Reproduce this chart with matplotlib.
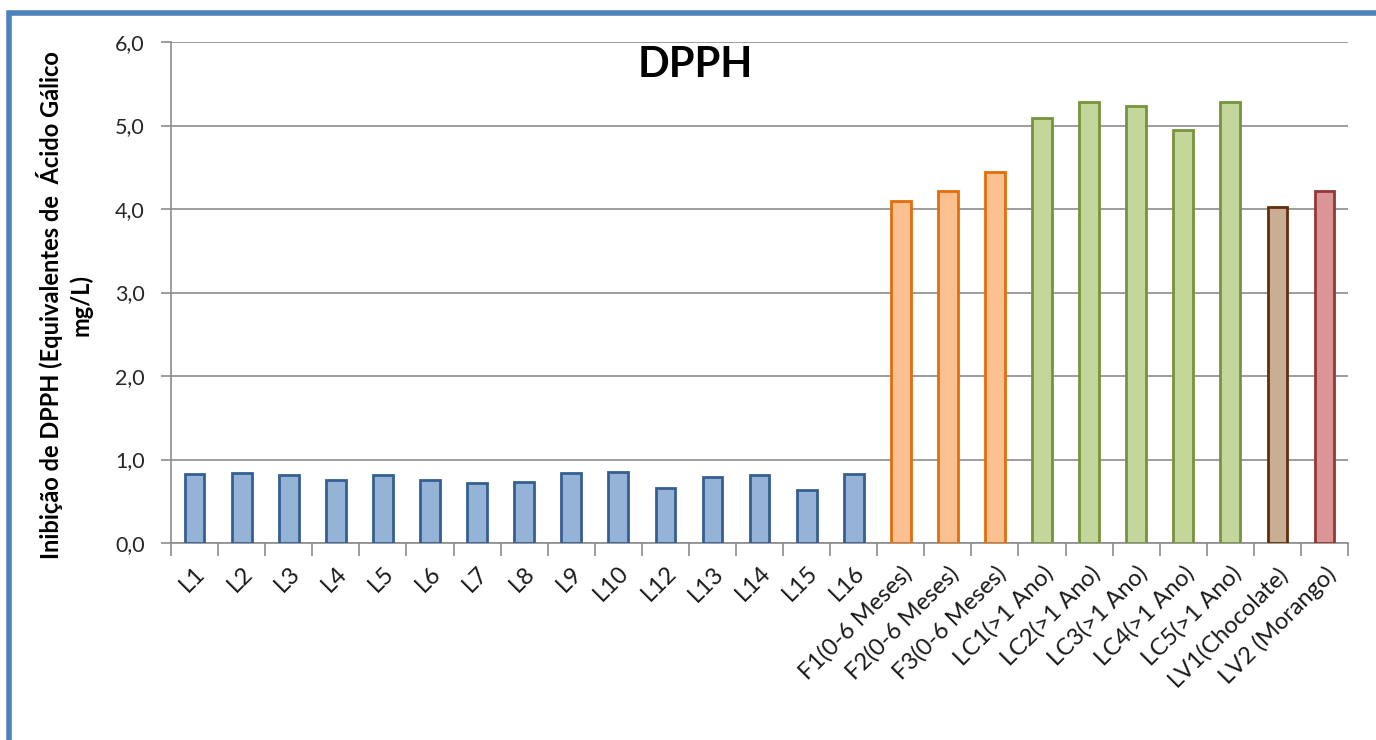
import matplotlib.pyplot as plt
import matplotlib.patches as mpatches
import numpy as np

plt.rcParams['font.family'] = ['Lato', 'DejaVu Sans']

labels = ['L1', 'L2', 'L3', 'L4', 'L5', 'L6', 'L7', 'L8', 'L9', 'L10',
          'L12', 'L13', 'L14', 'L15', 'L16',
          'F1(0-6 Meses)', 'F2(0-6 Meses)', 'F3(0-6 Meses)',
          'LC1(>1 Ano)', 'LC2(>1 Ano)', 'LC3(>1 Ano)', 'LC4(>1 Ano)', 'LC5(>1 Ano)',
          'LV1(Chocolate)', 'LV2 (Morango)']
values = [0.83, 0.84, 0.81, 0.75, 0.81, 0.76, 0.72, 0.73, 0.84, 0.85,
          0.66, 0.79, 0.81, 0.64, 0.83,
          4.10, 4.22, 4.44,
          5.09, 5.28, 5.23, 4.95, 5.28,
          4.02, 4.21]
groups = ['L'] * 15 + ['F'] * 3 + ['LC'] * 5 + ['LV1', 'LV2']

fills = {'L': '#95b3d7', 'F': '#fac090', 'LC': '#c3d69b', 'LV1': '#c9ae94', 'LV2': '#d99694'}
edges = {'L': '#365f91', 'F': '#e46c0a', 'LC': '#77933c', 'LV1': '#632e0a', 'LV2': '#953735'}

fig = plt.figure(figsize=(13.76, 7.40), dpi=100)
ax = fig.add_axes([0.1243, 0.2662, 0.8554, 0.677])

x = np.arange(len(labels))
ax.bar(x, values, width=0.42,
       color=[fills[g] for g in groups],
       edgecolor=[edges[g] for g in groups], linewidth=2, zorder=3)

ax.set_xlim(-0.5, len(labels) - 0.5)
ax.set_ylim(0, 6)
ax.set_yticks(np.arange(0, 7, 1))
ax.set_yticklabels([f'{v:.1f}'.replace('.', ',') for v in range(7)], fontsize=15.5, color='#262626')
ax.yaxis.grid(True, color='#8c8c8c', linewidth=1.2, zorder=0)

ax.set_xticks(x)
ax.set_xticklabels(labels, rotation=45, ha='right', rotation_mode='anchor',
                   fontsize=17, color='#1a1a1a')
ax.set_xticks(np.arange(-0.5, len(labels), 1), minor=True)
ax.tick_params(axis='x', which='major', length=0, pad=14)
ax.tick_params(axis='x', which='minor', length=9, color='#8c8c8c', width=1.2)
ax.tick_params(axis='y', length=7, color='#8c8c8c', width=1.2, pad=12)

for s in ['top', 'right']:
    ax.spines[s].set_visible(False)
for s in ['left', 'bottom']:
    ax.spines[s].set_color('#8c8c8c')
    ax.spines[s].set_linewidth(1.2)

ax.set_ylabel('Inibição de DPPH (Equivalentes de  Ácido Gálico\nmg/L)',
              fontsize=17, fontweight='bold', linespacing=1.3)
ax.yaxis.set_label_coords(-0.067, 0.475)

fig.text(0.505, 0.912, 'DPPH', fontsize=30, fontweight='bold', ha='center', va='center')

# blue frame along the left and top edges
fig.patches.append(mpatches.Rectangle((0.0065, -0.1), 1.2, 1.082, transform=fig.transFigure,
                                      fill=False, edgecolor='#4f81bd', linewidth=4))

fig.savefig('out.png', dpi=100)
